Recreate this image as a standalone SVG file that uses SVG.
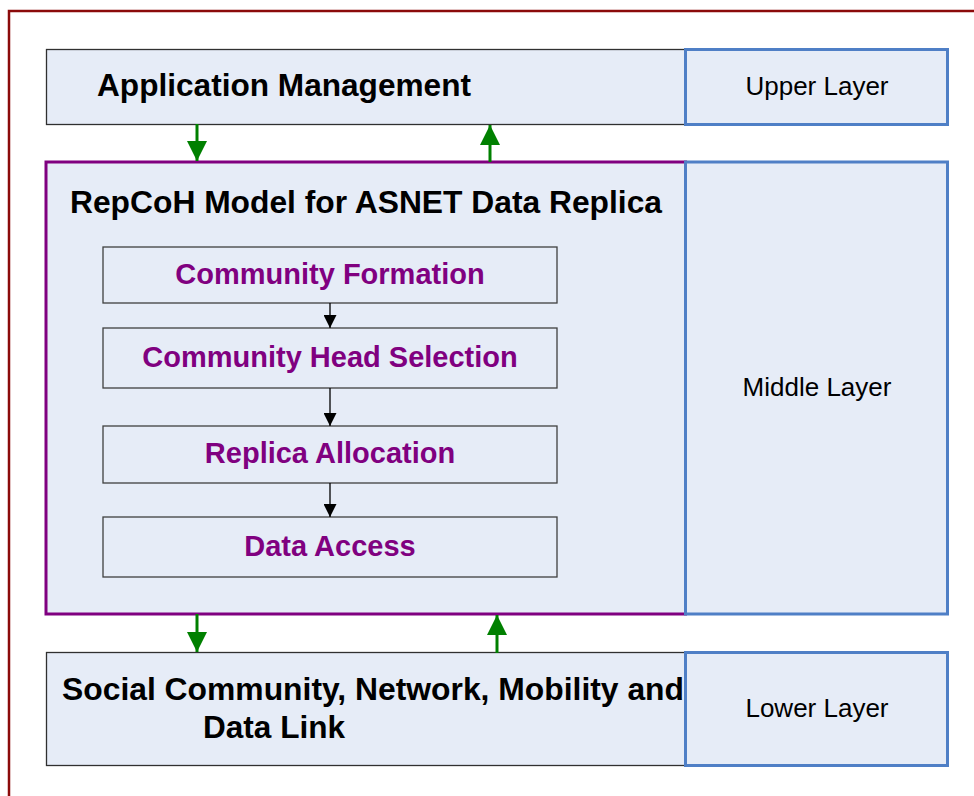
<svg xmlns="http://www.w3.org/2000/svg" width="974" height="796" viewBox="0 0 974 796">
  <style>
    .panel { fill: #E6ECF7; }
    .plain { stroke: #303030; stroke-width: 1.3; }
    .model { stroke: #800080; stroke-width: 3; }
    .layer { fill: #E6ECF7; stroke: #4F7FC6; stroke-width: 3; }
    .step { fill: #E6ECF7; stroke: #404040; stroke-width: 1.3; }
    .title { font-family: "Liberation Sans", Arial, sans-serif; font-weight: bold; font-size: 31.6px; fill: #000; }
    .stepText { font-family: "Liberation Sans", Arial, sans-serif; font-weight: bold; font-size: 29px; fill: #800080; text-anchor: middle; }
    .layerText { font-family: "Liberation Sans", Arial, sans-serif; font-size: 26px; fill: #000; text-anchor: middle; }
    .flow { stroke: #008000; stroke-width: 3; fill: none; }
    .seq { stroke: #000; stroke-width: 1.3; fill: none; }
  </style>
  <defs>
    <marker id="greenHead" viewBox="0 0 10 10" refX="10" refY="5" markerUnits="userSpaceOnUse" markerWidth="20" markerHeight="20" orient="auto">
      <path d="M0,0 L10,5 L0,10 Z" fill="#008000"/>
    </marker>
    <marker id="blackHead" viewBox="0 0 10 10" refX="10" refY="5" markerUnits="userSpaceOnUse" markerWidth="13" markerHeight="13" orient="auto">
      <path d="M0,0 L10,5 L0,10 Z" fill="#000"/>
    </marker>
  </defs>

  <rect width="974" height="796" fill="#fff"/>
  <!-- outer frame -->
  <rect x="9" y="11" width="990" height="800" fill="none" stroke="#8B0A0A" stroke-width="2.5"/>

  <g id="application-management">
    <rect class="panel plain" x="46.5" y="49.5" width="639" height="75"/>
    <text class="title" x="97" y="96" textLength="374" lengthAdjust="spacingAndGlyphs">Application Management</text>
  </g>
  <g id="upper-layer">
    <rect class="layer" x="685.5" y="49.5" width="262" height="75"/>
    <text class="layerText" x="817" y="95">Upper Layer</text>
  </g>

  <g id="repcoh-model">
    <rect class="panel model" x="46" y="162" width="639.5" height="452"/>
    <text class="title" x="70" y="213" textLength="592" lengthAdjust="spacingAndGlyphs">RepCoH Model for ASNET Data Replica</text>
  </g>
  <g id="middle-layer">
    <rect class="layer" x="685.5" y="162" width="262" height="452"/>
    <text class="layerText" x="817" y="396">Middle Layer</text>
  </g>

  <g id="community-formation">
    <rect class="step" x="103" y="247" width="454" height="56"/>
    <text class="stepText" x="330" y="284">Community Formation</text>
  </g>
  <g id="community-head-selection">
    <rect class="step" x="103" y="328" width="454" height="60"/>
    <text class="stepText" x="330" y="367">Community Head Selection</text>
  </g>
  <g id="replica-allocation">
    <rect class="step" x="103" y="426" width="454" height="57"/>
    <text class="stepText" x="330" y="463">Replica Allocation</text>
  </g>
  <g id="data-access">
    <rect class="step" x="103" y="517" width="454" height="60"/>
    <text class="stepText" x="330" y="556">Data Access</text>
  </g>

  <g id="social-community">
    <rect class="panel plain" x="46.5" y="652.5" width="639" height="113"/>
    <text class="title" x="62" y="700" font-size="33" textLength="622" lengthAdjust="spacingAndGlyphs">Social Community, Network, Mobility and</text>
    <text class="title" x="203" y="738" font-size="33" textLength="142" lengthAdjust="spacingAndGlyphs">Data Link</text>
  </g>
  <g id="lower-layer">
    <rect class="layer" x="685.5" y="652.5" width="262" height="113"/>
    <text class="layerText" x="817" y="717">Lower Layer</text>
  </g>

  <g id="connectors">
    <!-- between upper and middle layers -->
    <line class="flow" x1="197" y1="124" x2="197" y2="161" marker-end="url(#greenHead)"/>
    <line class="flow" x1="490" y1="162" x2="490" y2="125" marker-end="url(#greenHead)"/>
    <!-- between middle and lower layers -->
    <line class="flow" x1="197" y1="614" x2="197" y2="652" marker-end="url(#greenHead)"/>
    <line class="flow" x1="497" y1="653" x2="497" y2="615" marker-end="url(#greenHead)"/>
    <!-- model steps -->
    <line class="seq" x1="330" y1="303" x2="330" y2="328" marker-end="url(#blackHead)"/>
    <line class="seq" x1="330" y1="388" x2="330" y2="426" marker-end="url(#blackHead)"/>
    <line class="seq" x1="330" y1="483" x2="330" y2="517" marker-end="url(#blackHead)"/>
  </g>
</svg>
